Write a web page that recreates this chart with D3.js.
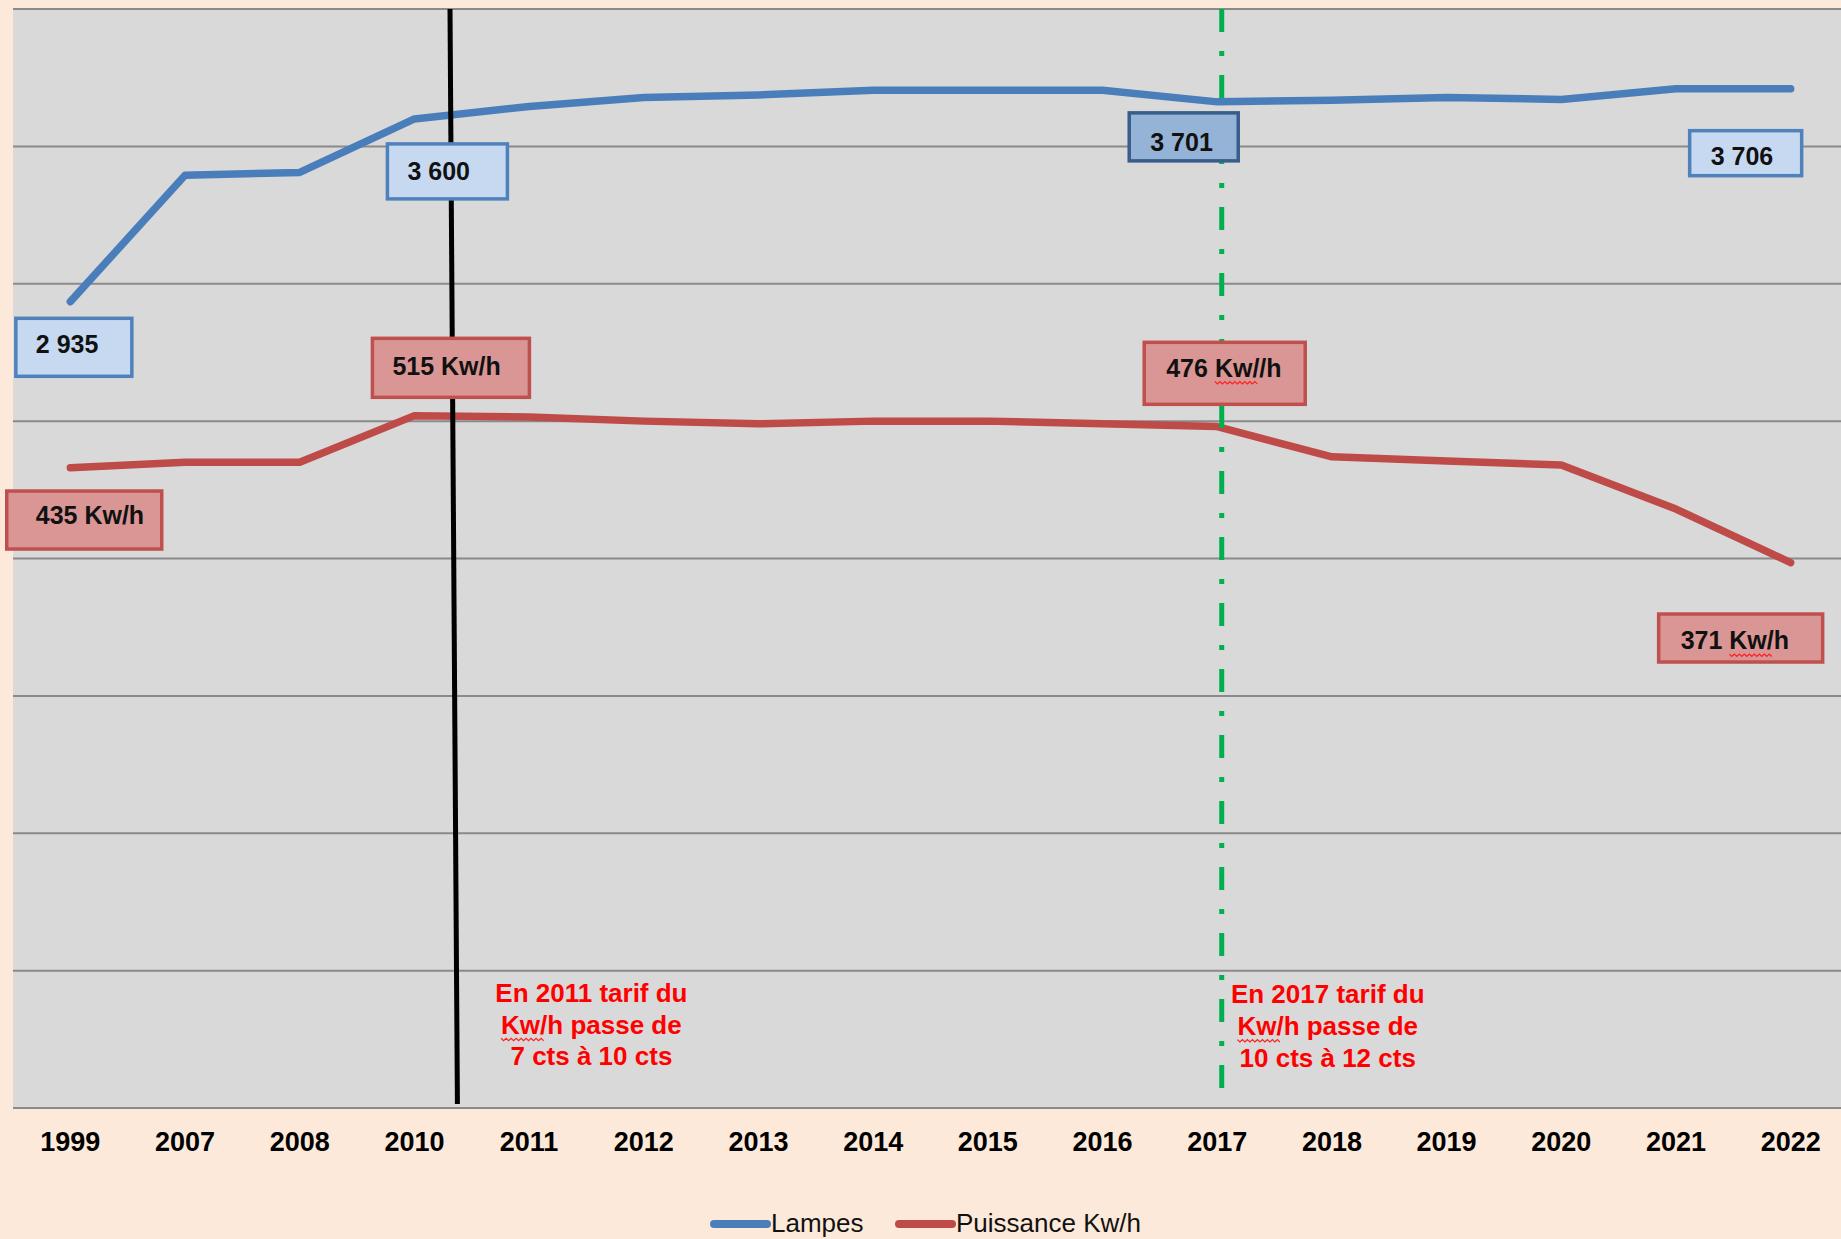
<!DOCTYPE html>
<html>
<head>
<meta charset="utf-8">
<script src="https://cdn.jsdelivr.net/npm/d3@7"></script>
<style>
  html, body { margin: 0; padding: 0; background: #FDE9D9; }
  svg { display: block; font-family: "Liberation Sans", Arial, sans-serif; }
</style>
</head>
<body>
<div id="chart"></div>
<script>
// data
const years = ["1999", "2007", "2008", "2010", "2011", "2012", "2013", "2014",
               "2015", "2016", "2017", "2018", "2019", "2020", "2021", "2022"];
const lampes = [2935, 3395, 3405, 3600, 3645, 3678, 3687, 3704,
                3704, 3704, 3662, 3668, 3678, 3671, 3710, 3710];
const puissance = [466, 470, 470, 504, 503, 500, 498, 500,
                   500, 498, 496, 474, 471, 468, 436, 397];
const leftTicks = [0, 500, 1000, 1500, 2000, 2500, 3000, 3500, 4000];
const seriesNames = ["Lampes", "Puissance Kw/h"];

// data labels (text boxes) and the two tariff events
const labelSeries = ["lampes", "lampes", "lampes", "lampes", "puissance", "puissance", "puissance", "puissance"];
const labelYears = ["1999", "2010", "2017", "2022", "1999", "2010", "2017", "2022"];
const labelTexts = ["2 935", "3 600", "3 701", "3 706", "435 Kw/h", "515 Kw/h", "476 Kw//h", "371 Kw/h"];
const eventYears = ["2010", "2017"];
const eventTexts = [
    ["En 2011 tarif du", "Kw/h passe de", "7 cts à 10 cts"],
    ["En 2017 tarif du", "Kw/h passe de", "10 cts à 12 cts"]
];

const width = 1841, height = 1239;
const plotLeft = 13, plotRight = 1848, plotTop = 9, plotBottom = 1108;

const svg = d3.select("#chart")
    .append("svg")
    .attr("width", width)
    .attr("height", height);

svg.append("rect")
    .attr("width", width)
    .attr("height", height)
    .attr("fill", "#FDE9D9");

// scales
const xScale = d3.scaleBand()
    .domain(years)
    .range([plotLeft, plotRight]);
const xc = d => xScale(d) + xScale.bandwidth() / 2;

const yLeft = d3.scaleLinear()
    .domain([0, 4000])
    .range([plotBottom, plotTop]);
const yRight = d3.scaleLinear()
    .domain([0, 800])
    .range([plotBottom, plotTop]);

// plot area
svg.append("rect")
    .attr("x", plotLeft)
    .attr("y", yLeft(4000))
    .attr("width", plotRight - plotLeft)
    .attr("height", yLeft(0) - yLeft(4000))
    .attr("fill", "#D9D9D9");

// gridlines
svg.append("g")
    .selectAll("line")
    .data(leftTicks)
    .join("line")
    .attr("x1", plotLeft)
    .attr("x2", plotRight)
    .attr("y1", d => yLeft(d))
    .attr("y2", d => yLeft(d))
    .attr("stroke", "#8A8A8A")
    .attr("stroke-width", 2);

// x axis
const gx = svg.append("g")
    .attr("transform", "translate(0," + yLeft(0) + ")")
    .call(d3.axisBottom(xScale).tickSize(0).tickPadding(0));
gx.attr("font-family", null).attr("font-size", null);
gx.select(".domain").remove();
gx.selectAll("text")
    .attr("dy", null)
    .attr("y", 43)
    .attr("font-size", 27)
    .attr("font-weight", "bold")
    .attr("fill", "#000");

// series lines
const lineLeft = d3.line()
    .x((d, i) => xc(years[i]))
    .y(d => yLeft(d));
const lineRight = d3.line()
    .x((d, i) => xc(years[i]))
    .y(d => yRight(d));

svg.append("path")
    .datum(lampes)
    .attr("d", lineLeft)
    .attr("fill", "none")
    .attr("stroke", "#4A7EBB")
    .attr("stroke-width", 7.5)
    .attr("stroke-linejoin", "round")
    .attr("stroke-linecap", "round");

svg.append("path")
    .datum(puissance)
    .attr("d", lineRight)
    .attr("fill", "none")
    .attr("stroke", "#BE4B48")
    .attr("stroke-width", 7.5)
    .attr("stroke-linejoin", "round")
    .attr("stroke-linecap", "round");

// event lines: black solid (2011) and green dash-dot (2017)
svg.append("line")
    .attr("x1", xc(eventYears[0]) + 35.6)
    .attr("x2", xc(eventYears[0]) + 43)
    .attr("y1", yLeft(4000))
    .attr("y2", 1104)
    .attr("stroke", "#000")
    .attr("stroke-width", 5);

svg.append("line")
    .attr("x1", xc(eventYears[1]) + 4.5)
    .attr("x2", xc(eventYears[1]) + 4.5)
    .attr("y1", yLeft(4000))
    .attr("y2", 1090)
    .attr("stroke", "#00B050")
    .attr("stroke-width", 5)
    .attr("stroke-dasharray", "23,19,5,19");

// red spell-check squiggle under a char range
function squiggle(textSel, from, to, extra) {
    const node = textSel.node();
    const x0 = node.getStartPositionOfChar(from).x;
    const x1 = node.getEndPositionOfChar(to).x + (extra || 0);
    const y = +textSel.attr("y") + 6;
    const pts = [];
    let up = true;
    for (let x = x0; x <= x1; x += 2.5) {
        pts.push([x, up ? y - 1.2 : y + 1.2]);
        up = !up;
    }
    svg.append("path")
        .attr("d", d3.line()(pts))
        .attr("fill", "none")
        .attr("stroke", "#FF2020")
        .attr("stroke-width", 1.2);
}

// data label boxes (offsets from the point they belong to)
const boxDx = [-54.5, -27, -88, -101, -63.6, -42, -73, -132];
const boxDy = [16.7, 25, 11, 42, 23.2, -77.3, -84.3, 51.4];
const boxW = [116, 120, 109, 112, 155, 157, 161, 164];
const boxH = [58, 55, 48, 45, 58, 59, 62, 48];
const textDx = [20, 20, 21, 21, 29, 20, 22, 22];
const textDy = [34.4, 36, 37.7, 34, 33.3, 36.7, 34.4, 35.3];

labelTexts.forEach(function (t, i) {
    const isL = labelSeries[i] === "lampes";
    const idx = years.indexOf(labelYears[i]);
    const px = xc(labelYears[i]);
    const py = isL ? yLeft(lampes[idx]) : yRight(puissance[idx]);
    const bx = px + boxDx[i], by = py + boxDy[i];
    const dark = labelYears[i] === "2017" && isL;
    svg.append("rect")
        .attr("x", bx)
        .attr("y", by)
        .attr("width", boxW[i])
        .attr("height", boxH[i])
        .attr("fill", isL ? (dark ? "#95B3D7" : "#C6D9F1") : "#DA9694")
        .attr("stroke", isL ? (dark ? "#385D8A" : "#4F81BD") : "#C0504D")
        .attr("stroke-width", 3.5);
    const txt = svg.append("text")
        .attr("x", bx + textDx[i])
        .attr("y", by + textDy[i])
        .attr("font-size", 25)
        .attr("font-weight", "bold")
        .attr("fill", "#111")
        .text(t);
    if (t === "476 Kw//h" || t === "371 Kw/h") squiggle(txt, 4, 6, 0);
});

// event annotations
const evDx = [177, 110.5];
const evY = [1001.7, 1003];
eventTexts.forEach(function (lines, e) {
    lines.forEach(function (l, j) {
        const txt = svg.append("text")
            .attr("x", xc(eventYears[e]) + evDx[e])
            .attr("y", evY[e] + j * 31.8)
            .attr("text-anchor", "middle")
            .attr("font-size", 26)
            .attr("font-weight", "bold")
            .attr("fill", "#FF0000")
            .text(l);
        if (j === 1) squiggle(txt, 0, 1, 4);
    });
});

// legend
const legendX = [710, 895];
const legendColors = ["#4A7EBB", "#BE4B48"];
const legend = svg.append("g");
seriesNames.forEach(function (name, i) {
    legend.append("line")
        .attr("x1", legendX[i] + 4)
        .attr("x2", legendX[i] + 57)
        .attr("y1", 1224)
        .attr("y2", 1224)
        .attr("stroke", legendColors[i])
        .attr("stroke-width", 8)
        .attr("stroke-linecap", "round");
    legend.append("text")
        .attr("x", legendX[i] + 61)
        .attr("y", 1232)
        .attr("font-size", 26)
        .attr("fill", "#111")
        .text(name);
});
</script>
</body>
</html>
